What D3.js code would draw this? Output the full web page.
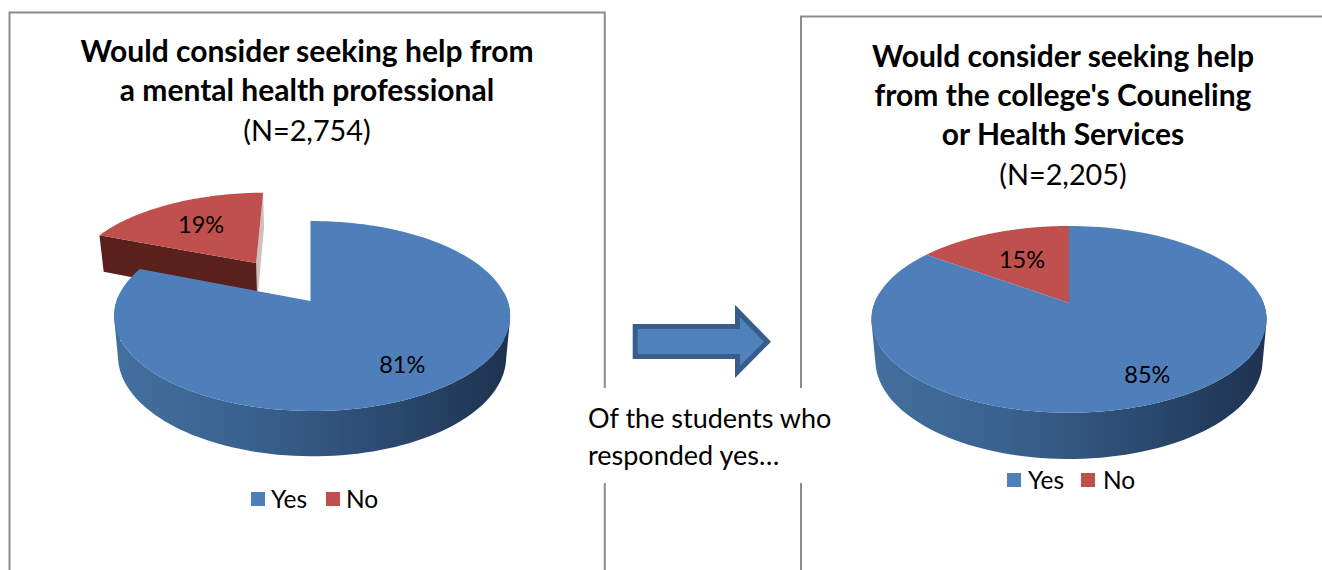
<!DOCTYPE html>
<html><head><meta charset="utf-8">
<script src="https://cdn.jsdelivr.net/npm/d3@7"></script>
<style>html,body{margin:0;padding:0;background:#fff;overflow:hidden}svg{display:block}text{font-family:Lato,"Open Sans",sans-serif;fill:#000}</style>
</head><body><svg id="c" width="1322" height="570"></svg>
<script>
const categories = ["Yes","No"];
const professionalValues = [81,19];
const collegeValues = [85,15];
const professionalTitle = ["Would consider seeking help from","a mental health professional"];
const collegeTitle = ["Would consider seeking help","from the college's Couneling","or Health Services"];
const professionalN = "(N=2,754)";
const collegeN = "(N=2,205)";
const noteLines = ["Of the students who","responded yes…"];

const svg = d3.select("#c");
const defs = svg.append("defs");
const topColor = d3.scaleOrdinal(categories,["#4e7fbb","#c0504d"]);
const wallStops = d3.scaleOrdinal(categories,[
  ["#43709f","#3a6290","#2c4b72","#1d324e"],
  ["#5a201b","#541d18","#4e1b16","#481813"]]);

function drawPie(id,values,g){
  const pie = d3.pie().sort(null).value(d=>d)(values);
  const k=g.k,m=g.m,a=g.a,b=g.b;
  const proj=(u,v,lift)=>{ // plan coordinates → screen
    const w=1+k*v+m*u;
    const X=b*u/w,Y=-a*v/w;
    if(lift) return [g.cx+X*0.98,g.cy+Y*0.98+g.depth/w];
    return [g.cx+X,g.cy+Y];
  };
  const line=d3.line();
  const root=svg.append("g");
  const x0=g.cx-g.b-5,x1=g.cx+g.b+5;
  categories.forEach(c=>{
    const gr=defs.append("linearGradient").attr("id",id+c).attr("gradientUnits","userSpaceOnUse")
      .attr("x1",x0).attr("x2",x1).attr("y1",0).attr("y2",0);
    wallStops(c).forEach((s,i,arr)=>gr.append("stop").attr("offset",i/(arr.length-1)).attr("stop-color",s));
  });
  // back to front: exploded "No" first
  [1,0].forEach(i=>{
    const d=pie[i],ex=g.explode[i];
    const mid=(d.startAngle+d.endAngle)/2;
    const ox=ex*Math.sin(mid),oy=ex*Math.cos(mid);
    const n=144;
    const ang=d3.range(n+1).map(t=>d.startAngle+(d.endAngle-d.startAngle)*t/n);
    const pt=(t,l)=>proj(ox+Math.sin(t),oy+Math.cos(t),l);
    const apex=l=>proj(ox,oy,l);
    const fill=`url(#${id}${categories[i]})`;
    // radial cut faces
    const face=(t,col)=>root.append("path").attr("d",line([apex(false),pt(t,false),pt(t,true),apex(true)])+"Z").attr("fill",col);
    if(ex>0){
      face(d.endAngle,"#cfc0bf");
      face(d.startAngle,wallStops(categories[i])[0]);
    } else if(g.explode[1]>0){
      face(d.startAngle,"#1d324e");
    }
    // outer wall, only the part that faces the viewer: swept quads joined into one path,
    // each wound the same way so overlaps near the silhouette do not cancel
    const wallD=d3.pairs(ang).filter(([s,e])=>Math.cos((s+e)/2)<0.1)
      .map(([s,e])=>{
        const q=[pt(s,false),pt(e,false),pt(e,true),pt(s,true)];
        if(d3.polygonArea(q)<0) q.reverse();
        return line(q)+"Z";
      }).join("");
    if(wallD) root.append("path").attr("d",wallD).attr("fill",fill);
    // top surface
    root.append("path").attr("d",line([apex(false)].concat(ang.map(t=>pt(t,false))))+"Z").attr("fill",topColor(categories[i]));
    // value label
    const lr=g.labelR[i];
    const p=proj(ox+lr*Math.sin(mid),oy+lr*Math.cos(mid),false);
    root.append("text").attr("x",p[0]).attr("y",p[1]+8).attr("text-anchor","middle").attr("font-size",g.labelSize).text(d.value+"%");
  });
}

// chart frames
const frame=(pts)=>svg.append("path").attr("d",d3.line()(pts)).attr("fill","none").attr("stroke","#8c8c8c").attr("stroke-width",2);
frame([[9.5,570],[9.5,12.5],[604.8,12.5],[604.8,388]]);
frame([[604.8,483],[604.8,570]]);
frame([[801,388],[801,16.5],[1322,16.5]]);
frame([[801,483],[801,570]]);

drawPie("a",professionalValues,{cx:310.5,cy:301,k:0.158,m:-0.008,a:92.6,b:195.5,depth:40,explode:[0,0.53],labelR:[0.75,0.62],labelSize:23.5});
drawPie("b",collegeValues,{cx:1069,cy:303,k:0.175,m:0,a:90.5,b:194.5,depth:40,explode:[0,0],labelR:[0.78,0.58],labelSize:23.5});

function titleBlock(lines,n,cx,y0,dy){
  lines.forEach((t,i)=>svg.append("text").attr("x",cx).attr("y",y0+i*dy).attr("text-anchor","middle").attr("font-size",30).attr("font-weight",700).text(t));
  svg.append("text").attr("x",cx).attr("y",y0+lines.length*dy+1).attr("text-anchor","middle").attr("font-size",28.8).text(n);
}
titleBlock(professionalTitle,professionalN,307,62,39);
titleBlock(collegeTitle,collegeN,1063,67,39);

function legend(xSq,xTx,y){
  categories.forEach((c,i)=>{
    svg.append("rect").attr("x",xSq[i]).attr("y",y-7).attr("width",14).attr("height",14).attr("fill",topColor(c));
    svg.append("text").attr("x",xTx[i]).attr("y",y+8.5).attr("font-size",24.5).text(c);
  });
}
legend([251,326],[271,346],499);
legend([1007,1081],[1028,1103],480);

// arrow between charts
const arrowPts=[[635.2,326.5],[737.5,326.5],[737.5,311],[767.5,341.7],[737.5,372],[737.5,356.5],[635.2,356.5]];
svg.append("path").attr("d",d3.line()(arrowPts)+"Z").attr("fill","#4f81bd").attr("stroke","#385d8a").attr("stroke-width",5);

noteLines.forEach((t,i)=>svg.append("text").attr("x",588).attr("y",428+i*37).attr("font-size",27).text(t));
</script></body></html>
